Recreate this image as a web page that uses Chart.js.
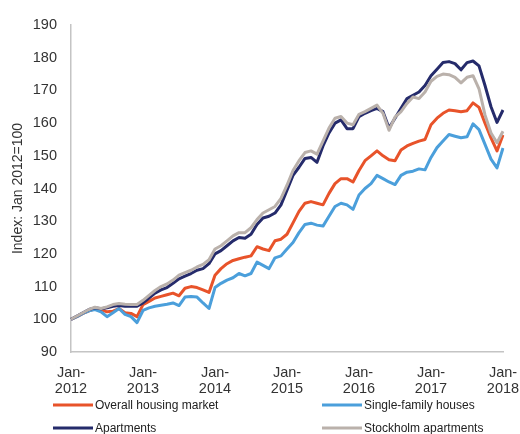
<!DOCTYPE html>
<html>
<head>
<meta charset="utf-8">
<script src="https://cdn.jsdelivr.net/npm/chart.js@4.4.1/dist/chart.umd.min.js"></script>
<style>
  body { margin: 0; background: #fff; }
  canvas { display: block; }
</style>
</head>
<body>
<canvas id="housing" width="520" height="434"></canvas>
<script>
// monthly categories, Jan 2012 .. Jan 2018
const monthNames = ['Jan', 'Feb', 'Mar', 'Apr', 'May', 'Jun', 'Jul', 'Aug', 'Sep', 'Oct', 'Nov', 'Dec'];
const years = [2012, 2013, 2014, 2015, 2016, 2017, 2018];

const overall = [
  100, 100.8, 101.8, 102.6, 103.2, 103, 102.3, 102.5, 103.3, 102, 101.8, 100.8,
  104.5, 105.5, 106.5, 107, 107.5, 108, 107.2, 109.5, 110, 109.7, 109, 108.2,
  113.5, 115.5, 117, 118, 118.5, 119, 119.4, 122.2, 121.5, 121, 124, 124.5,
  126, 129.5, 133, 135.5, 136, 135.5, 135, 138.5, 141.5, 143, 143, 142,
  145.5, 148.5, 150, 151.5, 150, 148.8, 148.5, 151.8, 153, 153.8, 154.5, 155,
  159.5, 161.5, 163, 164, 163.8, 163.5, 163.8, 166.2, 164.8, 160, 155.5, 151.5, 156.4
];
const singleFamily = [
  100, 100.8, 101.8, 102.6, 103, 102.3, 100.8, 102, 103.3, 101.5, 100.8, 99,
  102.7, 103.5, 104, 104.3, 104.6, 105, 104.2, 106.8, 107, 106.8, 105, 103.3,
  109.7, 111, 112, 112.7, 114, 113.3, 114, 117.5, 116.5, 115.5, 118.8, 119.4,
  121.5, 123.5, 126.5, 129, 129.4, 128.8, 128.5, 131.5, 134.5, 135.5, 135, 133.6,
  138, 140, 141.5, 144, 143, 142, 141.2, 144, 145, 145.3, 146, 145.7,
  149.5, 152.5, 154.5, 156.5, 156, 155.5, 155.8, 159.8, 158, 153.5, 149, 146.3, 152.4
];
const apartments = [
  100, 101, 102, 103, 103.5, 103.2, 103.5, 104, 104.2, 104, 104, 104,
  105, 106.5, 108, 109, 109.7, 111, 112.4, 113.2, 114, 115, 115.5, 117,
  120, 121, 122.5, 124, 125, 124.8, 126, 129, 131, 131.5, 132.5, 135,
  139.5, 144, 146.5, 149.2, 149.5, 148, 153, 157, 160, 161, 158.3, 158.3,
  162, 163, 163.8, 164.5, 163.5, 158.5, 161.5, 164.5, 167.5, 168.5, 169.5, 171.5,
  174.5, 176.5, 178.5, 178.8, 178.2, 176.3, 178.5, 179, 177.5, 171.5, 165, 160.2, 164
];
const stockholm = [
  100, 101, 102, 103, 103.7, 103.3, 103.8, 104.5, 104.8, 104.6, 104.5, 104.5,
  105.8, 107.3, 108.8, 110, 110.8, 112, 113.5, 114.3, 115, 116, 116.8, 118.2,
  121.5, 122.5, 124, 125.5, 126.5, 126.5, 128, 130.5, 132.5, 133.5, 134.5, 137,
  141, 145.5, 148.5, 151, 151.5, 150.5, 154.5, 158.5, 161.5, 162, 160, 159.5,
  162.7, 163.5, 164.5, 165.5, 163, 157.8, 161.8, 163.5, 166, 168, 167.5, 169.5,
  172.8, 174.3, 175, 174.8, 174, 172.3, 174, 174.5, 170.5, 162.5, 157, 154, 157.5
];

const seriesNames = ['Overall housing market', 'Single-family houses', 'Apartments', 'Stockholm apartments'];
const seriesColors = ['#e8532a', '#4b9fdb', '#252b6b', '#bab1ab'];

const categories = [];
years.forEach((y) => {
  monthNames.forEach((m) => {
    if (y < years[years.length - 1] || m === 'Jan') categories.push(m + '-' + y);
  });
});

const legendBelow = {
  id: 'legendBelow',
  afterDraw(chart) {
    const ctx = chart.ctx;
    const cols = [53, 322];
    const rows = [405, 428];
    ctx.save();
    ctx.font = '12px Arial, "Liberation Sans", sans-serif';
    ctx.textBaseline = 'middle';
    chart.data.datasets.forEach((ds, i) => {
      const x = cols[i % 2];
      const y = rows[Math.floor(i / 2)];
      ctx.strokeStyle = ds.borderColor;
      ctx.lineWidth = 3;
      ctx.beginPath();
      ctx.moveTo(x, y);
      ctx.lineTo(x + 40, y);
      ctx.stroke();
      ctx.fillStyle = '#222';
      ctx.fillText(ds.label, x + 42, y + 0.5);
    });
    ctx.restore();
  },
};

const initChart = () => {
  const values = [overall, singleFamily, apartments, stockholm];
  const datasets = values.map((v, i) => ({
    label: seriesNames[i],
    data: v,
    borderColor: seriesColors[i],
    backgroundColor: seriesColors[i],
    borderWidth: 3,
    pointRadius: 0,
    tension: 0,
    borderJoinStyle: 'round',
    order: 4 - i,
  }));

  const config = {
    type: 'line',
    data: { labels: categories, datasets: datasets },
    options: {
      responsive: false,
      animation: false,
      layout: { padding: { top: 25, right: 17, left: 0, bottom: 0 } },
      plugins: {
        legend: { display: false },
        tooltip: { enabled: false },
      },
      scales: {
        x: {
          grid: { display: false, drawTicks: false },
          border: { display: true, color: '#c4c4c4', width: 1.5 },
          afterFit: (s) => {
            s.height = 82;
            s.paddingLeft = 0;
            s.paddingRight = 0;
          },
          ticks: {
            autoSkip: false,
            maxRotation: 0,
            minRotation: 0,
            padding: 13,
            color: '#333',
            font: { family: 'Arial, "Liberation Sans", sans-serif', size: 14.5, lineHeight: 1.1 },
            callback: (value, index) => {
              const lab = categories[index];
              if (!lab.startsWith('Jan')) return null;
              const parts = lab.split('-');
              return [parts[0] + '-', parts[1]];
            },
          },
        },
        y: {
          min: 90,
          max: 190,
          grid: { display: false, drawTicks: false },
          border: { display: true, color: '#c4c4c4', width: 1.5 },
          afterFit: (s) => { s.width = 71; },
          ticks: {
            stepSize: 10,
            padding: 14,
            color: '#333',
            font: { family: 'Arial, "Liberation Sans", sans-serif', size: 14.5 },
          },
          title: {
            display: true,
            text: 'Index: Jan 2012=100',
            color: '#333',
            padding: { top: 10, bottom: 0 },
            font: { family: 'Arial, "Liberation Sans", sans-serif', size: 14 },
          },
        },
      },
    },
    plugins: [legendBelow],
  };

  new Chart(document.getElementById('housing'), config);
};

document.addEventListener('DOMContentLoaded', () => {
  if (!document.querySelector('#housing')) return;
  initChart();
});
</script>
</body>
</html>
